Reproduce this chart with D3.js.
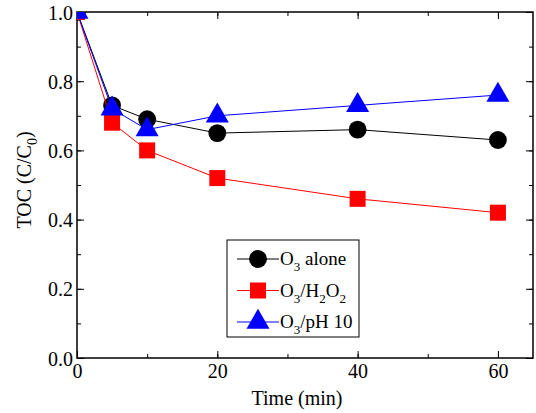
<!DOCTYPE html>
<html>
<head>
<meta charset="utf-8">
<script src="https://cdn.jsdelivr.net/npm/d3@7"></script>
<style>
  body { margin: 0; background: #fff; }
</style>
</head>
<body>
<script>
const time = [0, 5, 10, 20, 40, 60];
const o3Alone = [1.0, 0.73, 0.69, 0.65, 0.66, 0.63];
const o3H2o2 = [1.0, 0.68, 0.60, 0.52, 0.46, 0.42];
const o3Ph10 = [1.0, 0.72, 0.66, 0.70, 0.73, 0.76];
const xTicks = [0, 20, 40, 60];
const yTicks = [0.0, 0.2, 0.4, 0.6, 0.8, 1.0];

const FONT = '"Liberation Serif"';
const width = 536, height = 413;
const margin = {left: 77, right: 3, top: 12, bottom: 55};
const w = width - margin.left - margin.right;
const h = height - margin.top - margin.bottom;

const svg = d3.select('body').append('svg')
    .attr('width', width)
    .attr('height', height);

const g = svg.append('g')
    .attr('transform', `translate(${margin.left},${margin.top})`);

const x = d3.scaleLinear().domain([0, 65]).range([0, w]);
const y = d3.scaleLinear().domain([0, 1.0]).range([h, 0]);

svg.append('defs').append('clipPath').attr('id', 'clip')
    .append('rect').attr('width', w).attr('height', h);

// minor + major ticks, inward on all sides
const minorX = d3.range(0, 66, 10);
const minorY = d3.range(0, 1.01, 0.1);

function ticks(axis, vals, len, fmt) {
    return axis.tickValues(vals).tickSize(-len).tickSizeOuter(0).tickFormat(fmt);
}

g.append('g').attr('transform', `translate(0,${h})`)
    .call(ticks(d3.axisBottom(x), minorX, 4, () => ''));
const xBottomMajor = g.append('g').attr('transform', `translate(0,${h})`)
    .call(ticks(d3.axisBottom(x), xTicks, 7, d3.format('d')));
g.append('g').call(ticks(d3.axisTop(x), minorX, 4, () => ''));
g.append('g').call(ticks(d3.axisTop(x), xTicks, 7, () => ''));

g.append('g').call(ticks(d3.axisLeft(y), minorY, 4, () => ''));
const yLeft = g.append('g').call(ticks(d3.axisLeft(y), yTicks, 7, d3.format('.1f')));
g.append('g').attr('transform', `translate(${w},0)`)
    .call(ticks(d3.axisRight(y), minorY, 4, () => ''));
g.append('g').attr('transform', `translate(${w},0)`)
    .call(ticks(d3.axisRight(y), yTicks, 7, () => ''));

g.selectAll('.domain').remove();
g.selectAll('g').attr('font-family', null);
g.selectAll('.tick line').attr('stroke', '#000').attr('stroke-width', 1);
xBottomMajor.selectAll('text').attr('font-size', 20).attr('dy', '0.85em')
    .attr('fill', '#000').style('font-family', FONT);
yLeft.selectAll('text').attr('font-size', 20).attr('x', -4).attr('dy', '0.35em')
    .attr('fill', '#000').style('font-family', FONT);

// frame
g.append('rect').attr('width', w).attr('height', h)
    .attr('fill', 'none').attr('stroke', '#000').attr('stroke-width', 1.5);

const series = [
    {name: 'alone', vals: o3Alone, color: '#000', shape: d3.symbolCircle, size: 250},
    {name: 'h2o2', vals: o3H2o2, color: '#ff0000', shape: d3.symbolSquare, size: 256},
    {name: 'ph10', vals: o3Ph10, color: '#0000ff', shape: d3.symbolTriangle, size: 230}
];

const plot = g.append('g').attr('clip-path', 'url(#clip)');
const line = d3.line().x((d, i) => x(time[i])).y(d => y(d));

series.forEach(s => {
    plot.append('path').datum(s.vals)
        .attr('d', line)
        .attr('fill', 'none')
        .attr('stroke', s.color)
        .attr('stroke-width', 1);
    plot.selectAll(null).data(s.vals).enter().append('path')
        .attr('d', d3.symbol().type(s.shape).size(s.size))
        .attr('transform', (d, i) => `translate(${x(time[i])},${y(d)})`)
        .attr('fill', s.color);
});

// legend
const lg = svg.append('g').attr('transform', 'translate(227,240)');
lg.append('rect').attr('width', 132).attr('height', 97)
    .attr('fill', '#fff').attr('stroke', '#000').attr('stroke-width', 1);
const legendRows = [
    {s: series[0], label: ['O', '3', ' alone']},
    {s: series[1], label: ['O', '3', '/H', '2', 'O', '2']},
    {s: series[2], label: ['O', '3', '/pH 10']}
];
legendRows.forEach((r, i) => {
    const yy = 19 + i * 31.5;
    lg.append('line').attr('x1', 10).attr('x2', 52).attr('y1', yy).attr('y2', yy)
        .attr('stroke', r.s.color).attr('stroke-width', 1);
    lg.append('path').attr('d', d3.symbol().type(r.s.shape).size(r.s.size))
        .attr('transform', `translate(31,${yy})`).attr('fill', r.s.color);
    const t = lg.append('text').attr('x', 53).attr('y', yy + 6)
        .attr('font-size', 19).style('font-family', FONT);
    r.label.forEach((p, j) => {
        const sub = /^\d$/.test(p);
        t.append('tspan').text(p)
            .attr('font-size', sub ? 13 : 19)
            .attr('dy', sub ? 6 : (j > 0 && /^\d$/.test(r.label[j - 1]) ? -6 : 0));
    });
});

// axis titles
svg.append('text').attr('x', 297).attr('y', 405)
    .attr('text-anchor', 'middle').attr('font-size', 20)
    .style('font-family', FONT).text('Time (min)');

const yt = svg.append('text')
    .attr('transform', 'translate(31,180) rotate(-90)')
    .attr('text-anchor', 'middle').attr('font-size', 20)
    .style('font-family', FONT);
yt.append('tspan').text('TOC (C/C');
yt.append('tspan').text('0').attr('font-size', 14).attr('dy', 6);
yt.append('tspan').text(')').attr('dy', -6);
</script>
</body>
</html>
